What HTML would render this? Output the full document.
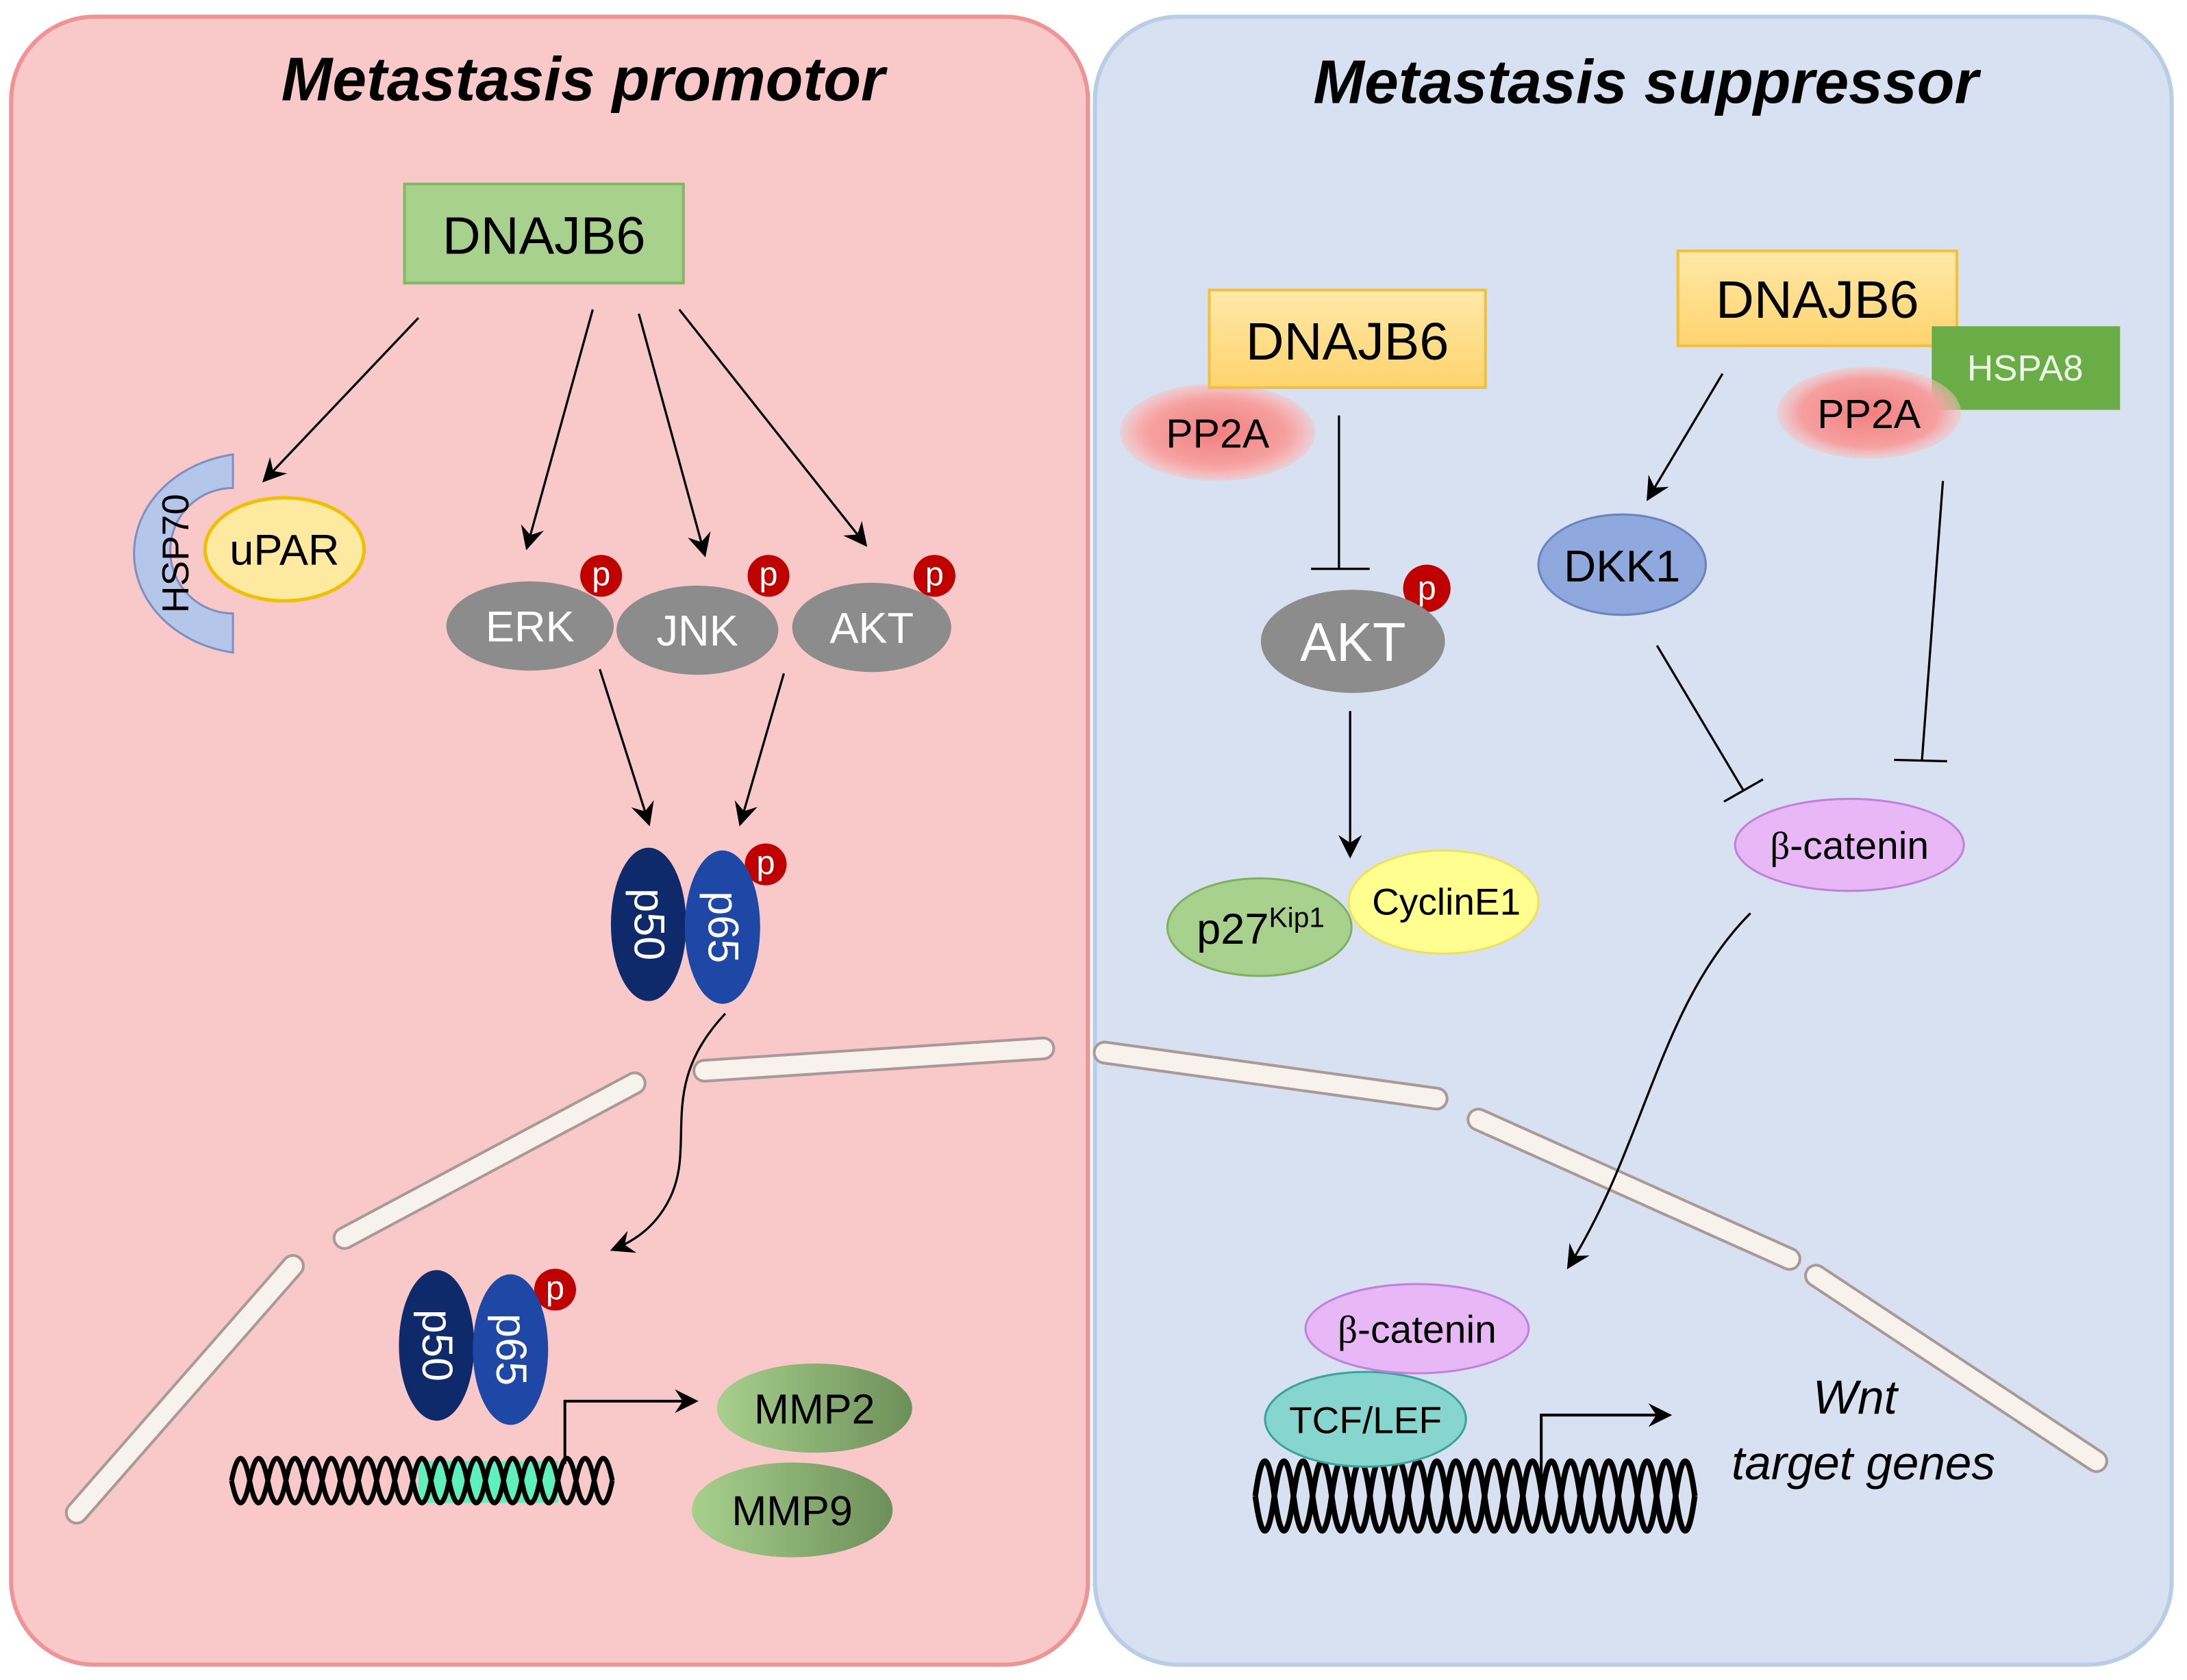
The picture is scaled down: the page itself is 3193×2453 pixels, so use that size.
<!DOCTYPE html>
<html><head><meta charset="utf-8"><style>html,body{margin:0;padding:0;background:#fff}svg{display:block}text{font-family:"Liberation Sans",Arial,sans-serif}</style></head>
<body>
<svg id="s" width="3193" height="2453" viewBox="0 0 1568 1205" preserveAspectRatio="none" xmlns="http://www.w3.org/2000/svg">
<defs>
<marker id="a" viewBox="0 0 12 12" refX="10" refY="6" markerWidth="17" markerHeight="17" markerUnits="userSpaceOnUse" orient="auto"><path d="M0,0 L12,6 L0,12 L4,6 z" fill="#000"/></marker>
<radialGradient id="pink"><stop offset="0" stop-color="#f27f7f"/><stop offset="0.75" stop-color="#f6a0a0"/><stop offset="1" stop-color="#f9c0c0" stop-opacity="0.5"/></radialGradient>
<linearGradient id="gr" x1="0" x2="1"><stop offset="0" stop-color="#a8d08d"/><stop offset="1" stop-color="#6d8f5a"/></linearGradient>
<linearGradient id="yl" x1="0" y1="0" x2="0" y2="1"><stop offset="0" stop-color="#ffe9a8"/><stop offset="1" stop-color="#ffd36e"/></linearGradient>
</defs>
<rect x="8" y="12" width="772" height="1182" rx="60" fill="#f9c8c8" stroke="#ee9494" stroke-width="3"/>
<rect x="785" y="12" width="772" height="1182" rx="60" fill="#d7e1f1" stroke="#b9cde6" stroke-width="3"/>
<text x="418" y="72" font-size="44" font-weight="bold" font-style="italic" text-anchor="middle">Metastasis promotor</text>
<text x="1180" y="74" font-size="44" font-weight="bold" font-style="italic" text-anchor="middle">Metastasis suppressor</text>

<g stroke-linecap="round" fill="none">
<g stroke="#a99" stroke-width="17">
<path d="M505 768 L748 752"/><path d="M247 888 L455 777"/><path d="M55 1085 L210 908"/>
<path d="M792 755 L1030 788"/><path d="M1060 803 L1283 903"/><path d="M1302 915 L1503 1048"/></g>
<g stroke="#f8f2ec" stroke-width="13">
<path d="M505 768 L748 752"/><path d="M247 888 L455 777"/><path d="M55 1085 L210 908"/>
<path d="M792 755 L1030 788"/><path d="M1060 803 L1283 903"/><path d="M1302 915 L1503 1048"/></g>
</g>

<rect x="290" y="132" width="200" height="71" fill="#a9d18e" stroke="#82b866" stroke-width="2"/>
<text x="390" y="182" font-size="38" text-anchor="middle">DNAJB6</text>
<g stroke="#000" stroke-width="1.6" marker-end="url(#a)">
<line x1="300" y1="228" x2="190" y2="344"/><line x1="425" y1="222" x2="378" y2="392"/>
<line x1="458" y1="225" x2="505" y2="397"/><line x1="487" y1="222" x2="620" y2="390"/>
<line x1="430" y1="480" x2="465" y2="590"/><line x1="562" y1="483" x2="531" y2="590"/>
<path d="M520 727 C470 780 500 820 480 860 C470 880 455 890 440 896" fill="none"/>
</g>
<path d="M167 326 A85 72 0 0 0 167 468 L167 440 A40 40 0 0 1 167 350 Z" fill="#b4c6ea" stroke="#7f8fbf" stroke-width="1.5"/>
<text transform="translate(128,397) rotate(-90)" font-size="27" text-anchor="middle" dominant-baseline="middle">HSP70</text>
<ellipse cx="204" cy="394" rx="57" ry="37" fill="#fde9a0" stroke="#f0c000" stroke-width="2.5"/>
<text x="204" y="405" font-size="31" text-anchor="middle">uPAR</text>
<g fill="#8c8c8c"><ellipse cx="380" cy="449" rx="60" ry="32"/><ellipse cx="500" cy="452" rx="58" ry="32"/><ellipse cx="625" cy="450" rx="57" ry="32"/></g>
<g fill="#fff" font-size="31" text-anchor="middle"><text x="380" y="460">ERK</text><text x="500" y="463">JNK</text><text x="625" y="461">AKT</text></g>
<g fill="#c00000"><circle cx="431" cy="413" r="15"/><circle cx="551" cy="413" r="15"/><circle cx="670" cy="413" r="15"/><circle cx="549" cy="620" r="15"/><circle cx="398" cy="925" r="15"/><circle cx="1023" cy="422" r="17"/></g>
<g fill="#fff" font-size="24" text-anchor="middle"><text x="431" y="420">p</text><text x="551" y="420">p</text><text x="670" y="420">p</text><text x="549" y="627">p</text><text x="398" y="932">p</text><text x="1023" y="430">p</text></g>
<ellipse cx="465" cy="663" rx="27" ry="55" fill="#0f2a6a"/><ellipse cx="518" cy="665" rx="27" ry="55" fill="#1f48a6"/>
<ellipse cx="313" cy="965" rx="27" ry="54" fill="#0f2a6a"/><ellipse cx="366" cy="968" rx="27" ry="54" fill="#1f48a6"/>
<g fill="#fff" font-size="31" text-anchor="middle">
<text transform="translate(465,663) rotate(90)" y="10">p50</text><text transform="translate(518,665) rotate(90)" y="10">p65</text>
<text transform="translate(313,965) rotate(90)" y="10">p50</text><text transform="translate(366,968) rotate(90)" y="10">p65</text></g>
<rect x="300" y="1048" width="100" height="30" fill="#5ff0c0"/>
<g id="dna1" fill="none" stroke="#000" stroke-width="3.5"></g>
<path d="M405 1050 V1005 H498" fill="none" stroke="#000" stroke-width="2" marker-end="url(#a)"/>
<ellipse cx="584" cy="1010" rx="70" ry="32" fill="url(#gr)"/><ellipse cx="568" cy="1083" rx="72" ry="34" fill="url(#gr)"/>
<text x="584" y="1021" font-size="30" text-anchor="middle">MMP2</text><text x="568" y="1094" font-size="30" text-anchor="middle">MMP9</text>

<ellipse cx="873" cy="310" rx="70" ry="35" fill="url(#pink)"/>
<rect x="867" y="208" width="198" height="70" fill="url(#yl)" stroke="#f0c040" stroke-width="2"/>
<text x="966" y="258" font-size="38" text-anchor="middle">DNAJB6</text>
<ellipse cx="873" cy="310" rx="64" ry="31" fill="url(#pink)" opacity="0.9"/>
<text x="873" y="321" font-size="29" text-anchor="middle">PP2A</text>
<g stroke="#000" stroke-width="1.6" fill="none">
<line x1="960" y1="298" x2="960" y2="408"/><line x1="940" y1="408" x2="982" y2="408"/>
<line x1="968" y1="510" x2="968" y2="613" marker-end="url(#a)"/>
<line x1="1235" y1="268" x2="1182" y2="357" marker-end="url(#a)"/>
<line x1="1188" y1="463" x2="1250" y2="567"/><line x1="1236" y1="575" x2="1264" y2="559"/>
<line x1="1393" y1="345" x2="1378" y2="545"/><line x1="1358" y1="545" x2="1396" y2="546"/>
<path d="M1255 655 C1190 720 1180 820 1125 908" marker-end="url(#a)"/>
</g>
<ellipse cx="970" cy="460" rx="66" ry="37" fill="#8c8c8c"/>
<text x="970" y="474" font-size="39" fill="#fff" text-anchor="middle">AKT</text>
<ellipse cx="903" cy="665" rx="66" ry="35" fill="#a9d18e" stroke="#7fb060" stroke-width="1.5"/>
<ellipse cx="1035" cy="647" rx="68" ry="37" fill="#ffff90" stroke="#f0e060" stroke-width="1.5"/>
<text x="858" y="677" font-size="31">p27<tspan font-size="20" dy="-12">Kip1</tspan></text>
<text x="1037" y="656" font-size="27" text-anchor="middle">CyclinE1</text>
<rect x="1203" y="180" width="200" height="68" fill="url(#yl)" stroke="#f0c040" stroke-width="2"/>
<text x="1303" y="228" font-size="38" text-anchor="middle">DNAJB6</text>
<rect x="1385" y="234" width="135" height="60" fill="#6aac45"/>
<text x="1452" y="273" font-size="26" fill="#eef8e8" text-anchor="middle">HSPA8</text>
<ellipse cx="1340" cy="296" rx="66" ry="33" fill="url(#pink)"/>
<text x="1340" y="307" font-size="29" text-anchor="middle">PP2A</text>
<ellipse cx="1163" cy="405" rx="60" ry="36" fill="#8fa9de" stroke="#6b84c0" stroke-width="1.5"/>
<text x="1163" y="417" font-size="32" text-anchor="middle">DKK1</text>
<ellipse cx="1326" cy="606" rx="82" ry="33" fill="#e8b8f6" stroke="#c080e0" stroke-width="1.5"/>
<text x="1326" y="616" font-size="28" text-anchor="middle"><tspan font-family="Liberation Serif">β</tspan>-catenin</text>
<g id="dna2" fill="none" stroke="#000" stroke-width="4"></g>
<ellipse cx="979" cy="1018" rx="72" ry="34" fill="#86d5cf" stroke="#3aa49a" stroke-width="1.5"/>
<text x="979" y="1028" font-size="27" text-anchor="middle">TCF/LEF</text>
<ellipse cx="1016" cy="953" rx="80" ry="32" fill="#e8b8f6" stroke="#c080e0" stroke-width="1.5"/>
<text x="1016" y="963" font-size="28" text-anchor="middle"><tspan font-family="Liberation Serif">β</tspan>-catenin</text>
<path d="M1105 1068 V1015 H1196" fill="none" stroke="#000" stroke-width="2" marker-end="url(#a)"/>
<text x="1330" y="1014" font-size="34" font-style="italic" text-anchor="middle">Wnt</text>
<text x="1336" y="1061" font-size="34" font-style="italic" text-anchor="middle">target genes</text>
</svg>
<script>
function dna(id,x0,x1,y0,y1,h){var g=document.getElementById(id),a=(y1-y0)/2,yc=(y0+y1)/2,n=Math.round((x1-x0)/h);
for(var s=0;s<2;s++){var sg=s?1:-1,d="M"+x0+" "+yc+" q"+(h/2)+" "+(sg*a*2)+" "+h+" 0";for(var i=1;i<n;i++)d+=" t"+h+" 0";
var p=document.createElementNS("http://www.w3.org/2000/svg","path");p.setAttribute("d",d);g.appendChild(p);}}
dna("dna1",166,444,1046,1078,13);dna("dna2",900,1216,1048,1098,13.7);
</script>
</body></html>
